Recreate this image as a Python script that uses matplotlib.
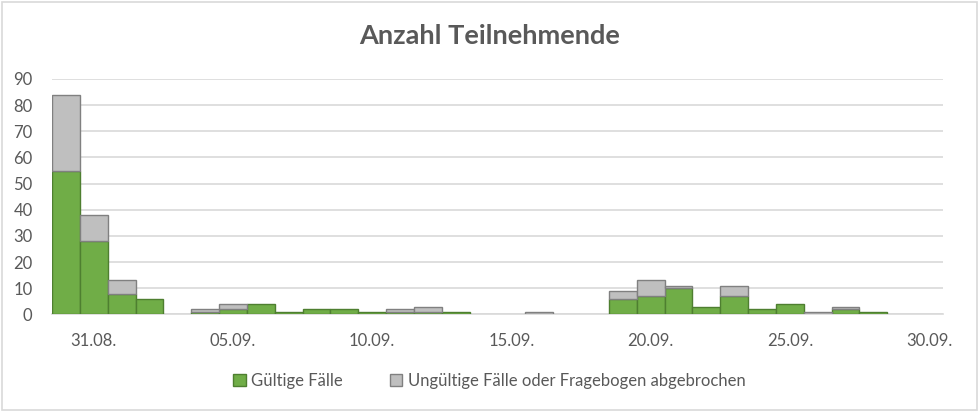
import matplotlib.pyplot as plt
import numpy as np
from matplotlib.patches import Rectangle

# one entry per day, 30.08. - 30.09.
dates = ['30.08.', '31.08.', '01.09.', '02.09.', '03.09.', '04.09.', '05.09.', '06.09.',
         '07.09.', '08.09.', '09.09.', '10.09.', '11.09.', '12.09.', '13.09.', '14.09.',
         '15.09.', '16.09.', '17.09.', '18.09.', '19.09.', '20.09.', '21.09.', '22.09.',
         '23.09.', '24.09.', '25.09.', '26.09.', '27.09.', '28.09.', '29.09.', '30.09.']
gueltig = [55, 28, 8, 6, 0, 1, 2, 4, 1, 2, 2, 1, 1, 1, 1, 0,
           0, 0, 0, 0, 6, 7, 10, 3, 7, 2, 4, 0, 2, 1, 0, 0]
ungueltig = [29, 10, 5, 0, 0, 1, 2, 0, 0, 0, 0, 0, 1, 2, 0, 0,
             0, 1, 0, 0, 3, 6, 1, 0, 4, 0, 0, 1, 1, 0, 0, 0]
shown_labels = ['31.08.', '05.09.', '10.09.', '15.09.', '20.09.', '25.09.', '30.09.']

title = 'Anzahl Teilnehmende'
label_g = 'Gültige Fälle'
label_u = 'Ungültige Fälle oder Fragebogen abgebrochen'

GREEN = '#70AD47'
GREEN_EDGE = '#4E7F30'
GREY = '#BFBFBF'
GREY_EDGE = '#808080'
TXT = '#595959'

plt.rcParams['font.family'] = ['Lato', 'DejaVu Sans']

fig = plt.figure(figsize=(9.79, 4.12), dpi=100)
ax = fig.add_axes([0.0531, 0.2367, 0.9101, 0.5716])

x = np.arange(len(dates))
g = np.array(gueltig)
u = np.array(ungueltig)

# leave out empty segments so no edge line sits on the baseline
mg = g > 0
ax.bar(x[mg], g[mg], width=1.0, color=GREEN, edgecolor=GREEN_EDGE, linewidth=1.0,
       label=label_g, zorder=3)
mu = u > 0
ax.bar(x[mu], u[mu], bottom=g[mu], width=1.0, color=GREY, edgecolor=GREY_EDGE,
       linewidth=1.0, label=label_u, zorder=3)

ax.set_xlim(-0.5, len(dates) - 0.5)
ax.set_ylim(0, 90)
ax.set_yticks(range(0, 91, 10))
ax.yaxis.grid(True, color='#D9D9D9', linewidth=1.2, zorder=0)
ax.set_axisbelow(True)

ticks = [dates.index(d) for d in shown_labels]
ax.set_xticks(ticks)
ax.set_xticklabels(shown_labels)
ax.tick_params(axis='both', length=0, labelsize=12, colors=TXT)
ax.tick_params(axis='x', pad=13)
ax.tick_params(axis='y', pad=14)

for s in ['top', 'right', 'left']:
    ax.spines[s].set_visible(False)
ax.spines['bottom'].set_color('#D9D9D9')
ax.spines['bottom'].set_linewidth(1.2)

fig.text(0.5, 0.913, title, ha='center', va='center', fontsize=19.5,
         fontweight='bold', color=TXT)

fig.legend(loc='center', bbox_to_anchor=(0.5, 0.075), ncol=2, frameon=False,
           fontsize=12, labelcolor=TXT, handlelength=0.75, handleheight=0.75,
           handletextpad=0.35, columnspacing=2.8)

fig.patches.append(Rectangle((0.002, 0.004), 0.996, 0.992, transform=fig.transFigure,
                             fill=False, edgecolor='#D9D9D9', linewidth=1.2))

fig.savefig('out.png', dpi=100, facecolor='white')
